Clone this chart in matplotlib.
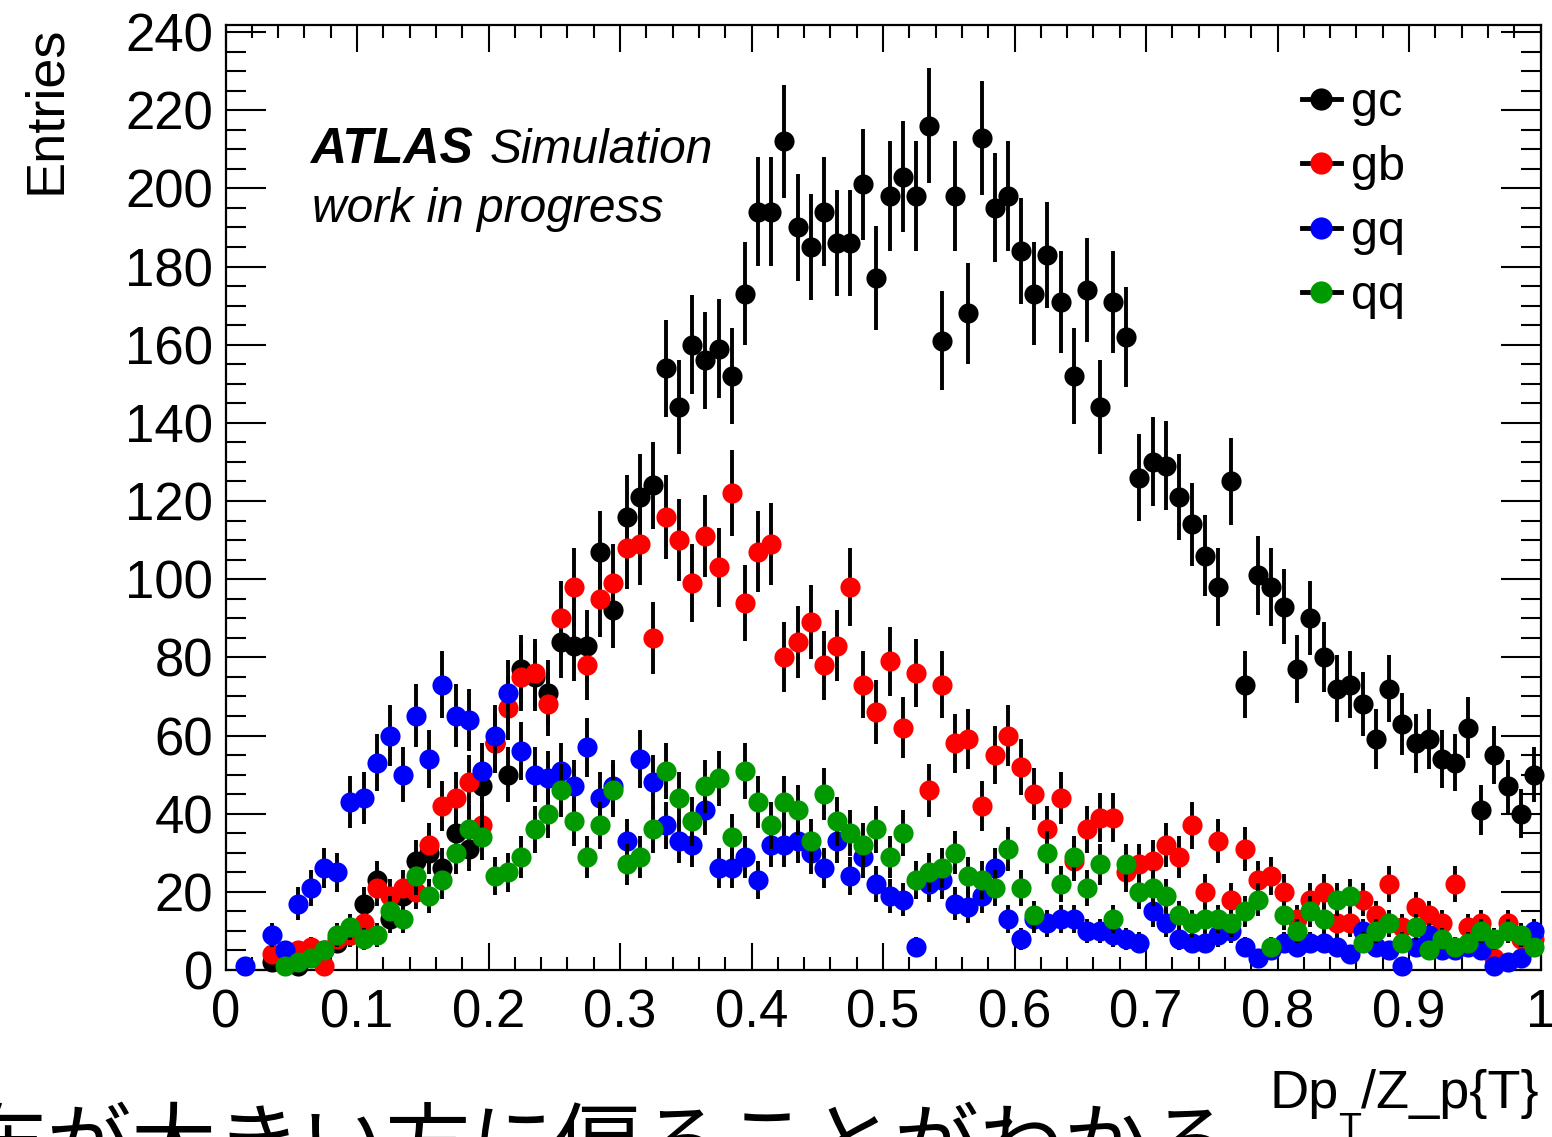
#!/usr/bin/env python3
"""
Jet pT-balance distributions for the four flavour pairings, drawn in ROOT/ATLAS style
"""

import numpy as np
import matplotlib
matplotlib.use("Agg")
import matplotlib.pyplot as plt
from matplotlib.lines import Line2D
from matplotlib.ticker import MultipleLocator, FuncFormatter

plt.rcParams['font.family'] = ['Liberation Sans', 'DejaVu Sans']

# 100 bins of width 0.01 between 0 and 1
N_BINS = 100
X_MIN, X_MAX = 0.0, 1.0

LABELS = ["gc", "gb", "gq", "qq"]
COLORS = ["black", "#ff0000", "#0000ff", "#009900"]

gc = [0, 0, 0, 2, 2, 1, 4, 5, 7, 9,
      17, 23, 13, 19, 28, 30, 26, 35, 31, 47,
      58, 50, 77, 75, 71, 84, 83, 83, 107, 92,
      116, 121, 124, 154, 144, 160, 156, 159, 152, 173,
      194, 194, 212, 190, 185, 194, 186, 186, 201, 177,
      198, 203, 198, 216, 161, 198, 168, 213, 195, 198,
      184, 173, 183, 171, 152, 174, 144, 171, 162, 126,
      130, 129, 121, 114, 106, 98, 125, 73, 101, 98,
      93, 77, 90, 80, 72, 73, 68, 59, 72, 63,
      58, 59, 54, 53, 62, 41, 55, 47, 40, 50]

gb = [0, 0, 0, 4, 3, 5, 6, 1, 8, 9,
      12, 21, 19, 21, 20, 32, 42, 44, 48, 37,
      58, 67, 75, 76, 68, 90, 98, 78, 95, 99,
      108, 109, 85, 116, 110, 99, 111, 103, 122, 94,
      107, 109, 80, 84, 89, 78, 83, 98, 73, 66,
      79, 62, 76, 46, 73, 58, 59, 42, 55, 60,
      52, 45, 36, 44, 28, 36, 39, 39, 25, 27,
      28, 32, 29, 37, 20, 33, 18, 31, 23, 24,
      20, 13, 18, 20, 12, 12, 18, 14, 22, 11,
      16, 14, 12, 22, 11, 12, 3, 12, 8, 8]

gq = [0, 1, 0, 9, 5, 17, 21, 26, 25, 43,
      44, 53, 60, 50, 65, 54, 73, 65, 64, 51,
      60, 71, 56, 50, 49, 51, 47, 57, 44, 47,
      33, 54, 48, 37, 33, 32, 41, 26, 26, 29,
      23, 32, 32, 33, 30, 26, 33, 24, 29, 22,
      19, 18, 6, 22, 23, 17, 16, 19, 26, 13,
      8, 13, 12, 13, 13, 10, 10, 9, 8, 7,
      15, 12, 8, 7, 7, 9, 10, 6, 3, 5,
      7, 6, 7, 7, 6, 4, 10, 6, 5, 1,
      6, 9, 5, 5, 6, 5, 1, 2, 3, 10]

qq = [0, 0, 0, 0, 1, 2, 3, 5, 9, 11,
      8, 9, 15, 13, 24, 19, 23, 30, 36, 34,
      24, 25, 29, 36, 40, 46, 38, 29, 37, 46,
      27, 29, 36, 51, 44, 38, 47, 49, 34, 51,
      43, 37, 43, 41, 33, 45, 38, 35, 32, 36,
      29, 35, 23, 25, 26, 30, 24, 23, 21, 31,
      21, 14, 30, 22, 29, 21, 27, 13, 27, 20,
      21, 19, 14, 12, 13, 13, 12, 15, 18, 6,
      14, 10, 15, 13, 18, 19, 7, 10, 12, 7,
      11, 5, 8, 6, 7, 10, 8, 10, 9, 6]

SERIES = [gc, gb, gq, qq]


def draw_xtitle(fig, right_px, base_px, size=39, sub_size=27):
    """Right-aligned x title 'Dp_T/Z_p{T}' with a low-hanging subscript T."""
    W, H = fig.get_size_inches() * fig.dpi
    renderer = fig.canvas.get_renderer()
    y = 1 - base_px / H

    tail = fig.text(right_px / W, y, "/Z_p{T}", ha='right', va='baseline',
                    fontsize=size)
    left = tail.get_window_extent(renderer).x0
    sub = fig.text(left / W, 1 - (base_px + 4) / H, "T", ha='right', va='top',
                   fontsize=sub_size)
    left = sub.get_window_extent(renderer).x0
    fig.text(left / W, y, "Dp", ha='right', va='baseline', fontsize=size)


def main():
    fig = plt.figure(figsize=(15.52, 11.37), dpi=100)
    ax = fig.add_axes([0.1453, 0.14688, 0.8473, 0.83113])

    edges = np.linspace(X_MIN, X_MAX, N_BINS + 1)
    centers = 0.5 * (edges[:-1] + edges[1:])

    # ROOT-like "E" drawing: sqrt(N) error bars, empty bins skipped
    for k, (vals, color) in enumerate(zip(SERIES, COLORS)):
        vals = np.asarray(vals, dtype=float)
        keep = vals > 0
        ax.errorbar(centers[keep], vals[keep], yerr=np.sqrt(vals[keep]),
                    fmt='o', ms=14.5, color=color, mfc=color, mec=color, mew=0,
                    ecolor='black', elinewidth=2.8, capsize=0,
                    clip_on=False, zorder=3 + k)

    ax.set_xlim(X_MIN, X_MAX)
    ax.set_ylim(0, 241.8)

    ax.xaxis.set_major_locator(MultipleLocator(0.1))
    ax.xaxis.set_minor_locator(MultipleLocator(0.02))
    ax.yaxis.set_major_locator(MultipleLocator(20))
    ax.yaxis.set_minor_locator(MultipleLocator(5))
    ax.xaxis.set_major_formatter(FuncFormatter(lambda v, p: f"{v:g}"))

    ax.tick_params(which='both', direction='in', top=True, right=True,
                   width=1.5, color='black')
    ax.tick_params(axis='x', which='major', length=19.5, pad=13, labelsize=38)
    ax.tick_params(axis='x', which='minor', length=9.5)
    ax.tick_params(axis='y', which='major', length=28.8, pad=9, labelsize=38)
    ax.tick_params(axis='y', which='minor', length=14.4)
    for sp in ax.spines.values():
        sp.set_linewidth(1.6)

    # axis titles aligned to the far ends, as ROOT does
    fig.text(0.0457, 0.978, "Entries", rotation=90, ha='right', va='top',
             fontsize=39)
    draw_xtitle(fig, 1539, 1108)

    # experiment label
    fig.text(310 / 1552, 1 - 163 / 1137, "ATLAS", fontsize=36,
             fontweight='bold', fontstyle='italic', va='baseline')
    fig.text(490 / 1552, 1 - 163 / 1137, "Simulation", fontsize=34.5,
             fontstyle='italic', va='baseline')
    fig.text(312 / 1552, 1 - 222 / 1137, "work in progress", fontsize=34.5,
             fontstyle='italic', va='baseline')

    handles = [Line2D([], [], color='black', lw=3.5, marker='o', ms=16,
                      mfc=c, mec=c, mew=0) for c in COLORS]
    ax.legend(handles, LABELS, loc='upper left',
              bbox_to_anchor=(1302 / 1552, 1 - 81 / 1137),
              bbox_transform=fig.transFigure, frameon=False, fontsize=35,
              handlelength=0.8, handletextpad=0.2, labelspacing=0.40,
              borderpad=0, borderaxespad=0)

    # caption line running off the bottom of the page
    fig.text(-123 / 1552, 1 - 1173 / 1137, "分布が大きい方に偏ることがわかる",
             fontsize=61, family=['Noto Sans CJK JP', 'DejaVu Sans'],
             va='baseline', ha='left')

    fig.savefig("out.png", dpi=100)
    plt.close(fig)


if __name__ == "__main__":
    main()
